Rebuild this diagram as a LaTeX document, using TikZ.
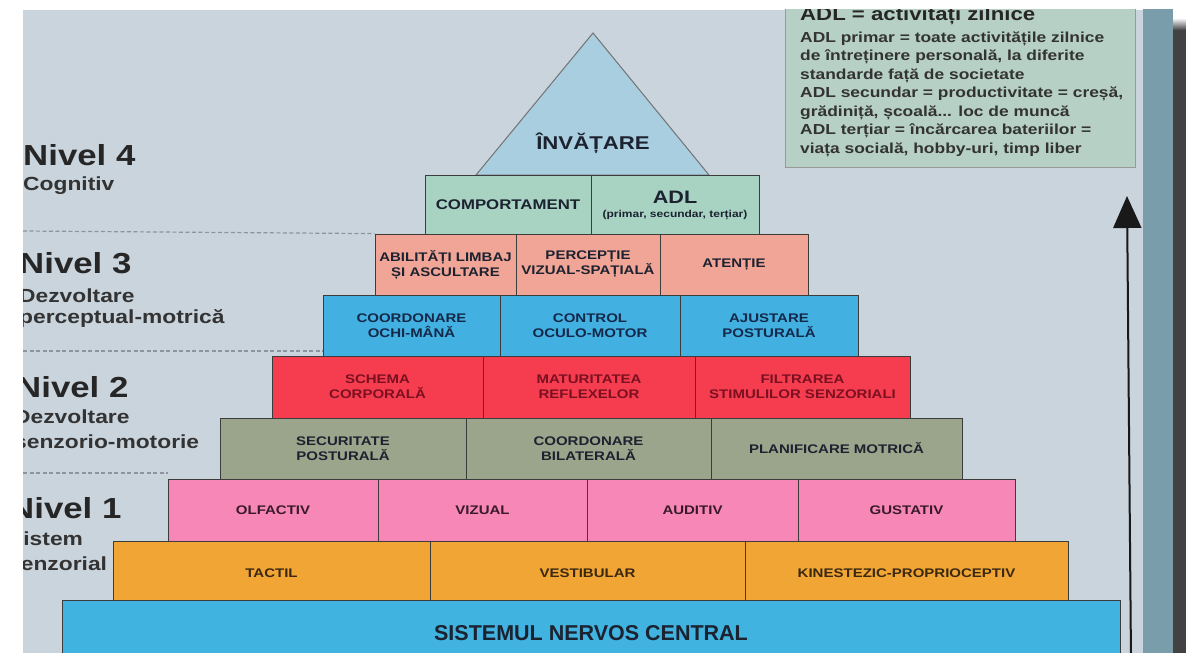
\documentclass[tikz,border=0pt]{standalone}
\usepackage{fontspec}
\setmainfont{Liberation Sans}[FakeStretch=1.2]
\newfontfamily\nsans{Liberation Sans}
\usetikzlibrary{arrows.meta}
\definecolor{bgc}{HTML}{CAD4DC}
\definecolor{tealc}{HTML}{7A9DAC}
\definecolor{trif}{HTML}{A9CEE0}
\definecolor{greenc}{HTML}{A8D3C2}
\definecolor{salmonc}{HTML}{F1A596}
\definecolor{bluec}{HTML}{42B0E0}
\definecolor{redc}{HTML}{F63D50}
\definecolor{olivec}{HTML}{9BA58B}
\definecolor{pinkc}{HTML}{F687B7}
\definecolor{orangec}{HTML}{F1A535}
\definecolor{cnsc}{HTML}{40B3E0}
\definecolor{adlc}{HTML}{B6D0C5}
\definecolor{txtc}{HTML}{1C2230}
\definecolor{redtxt}{HTML}{7A1020}
\definecolor{pinktxt}{HTML}{3A1A2A}
\definecolor{orangetxt}{HTML}{3A2810}
\definecolor{bluetxt}{HTML}{14284A}
\definecolor{dashc}{HTML}{8C959D}
\definecolor{edgec}{HTML}{3C3C3C}
\begin{document}
\begin{tikzpicture}[x=1pt,y=-1pt,
  cell/.style={draw=edgec,line width=0.8pt,inner sep=0pt,align=center,
    text=txtc,font=\bfseries\fontsize{12.5}{15}\selectfont},
  lvl/.style={anchor=base west,inner sep=0pt,text=black!85,font=\bfseries\fontsize{29}{30}\selectfont},
  sublvl/.style={anchor=base west,inner sep=0pt,text=black!80,font=\bfseries\fontsize{19}{20}\selectfont},
  dashline/.style={draw=dashc,line width=1.2pt,dash pattern=on 4pt off 2.5pt},
  adlline/.style={anchor=base west,inner sep=0pt,text=black!80,font=\bfseries\fontsize{14.5}{16}\selectfont}]
\useasboundingbox (0,0) rectangle (1186,653);
\fill[white] (0,0) rectangle (1186,653);
\fill[bgc] (23,10) rectangle (1143,653);
\fill[tealc] (1143,8) rectangle (1173,653);
\fill[black!74] (1173,28) rectangle (1186,653);
\shade[top color=white,bottom color=black!74] (1173,18) rectangle (1186,30);

% ADL box
\node[draw=black!40,fill=adlc,line width=0.8pt,minimum width=350pt,minimum height=180pt,inner sep=0pt] (adlbox) at (960,77) {};
\node[anchor=base west,inner sep=0pt,text=black!85,font=\bfseries\fontsize{18.5}{19}\selectfont] (adl0) at (800,20) {ADL = activitați zilnice};
\node[adlline] (adl1) at (800,42) {ADL primar = toate activitățile zilnice};
\node[adlline] (adl2) at (800,60.5) {de întreținere personală, la diferite};
\node[adlline] (adl3) at (800,79) {standarde față de societate};
\node[adlline] (adl4) at (800,97.5) {ADL secundar = productivitate = creșă,};
\node[adlline] (adl5) at (800,116) {grădiniță, școală... loc de muncă};
\node[adlline] (adl6) at (800,134.5) {ADL terțiar = încărcarea bateriilor =};
\node[adlline] (adl7) at (800,153) {viața socială, hobby-uri, timp liber};

% triangle
\filldraw[fill=trif,draw=black!55,line width=1pt] (593,33) -- (709,175) -- (476,175) -- cycle;
\node[inner sep=0pt,text=txtc,font=\bfseries\fontsize{18.5}{20}\selectfont] (invatare) at (593,143) {ÎNVĂȚARE};

% level 4 row
\node[cell,fill=greenc,minimum width=166pt,minimum height=59pt,font=\bfseries\fontsize{14}{16}\selectfont] (comp) at (508,204.5) {COMPORTAMENT};
\node[cell,fill=greenc,minimum width=168pt,minimum height=59pt] (adl) at (675,204.5) {};
\node[inner sep=0pt,text=txtc,font=\bfseries\fontsize{18}{19}\selectfont] (adlt) at (675,197) {ADL};
\node[inner sep=0pt,text=txtc,font=\bfseries\fontsize{10}{11}\selectfont] (adls) at (675,215) {(primar, secundar, terțiar)};

% level 3 rows
\node[cell,fill=salmonc,minimum width=141pt,minimum height=61pt] (abil) at (445.5,264.5) {ABILITĂȚI LIMBAJ\\ȘI ASCULTARE};
\node[cell,fill=salmonc,minimum width=144pt,minimum height=61pt] (perc) at (588,264.5) {PERCEPȚIE\\VIZUAL-SPAȚIALĂ};
\node[cell,fill=salmonc,minimum width=148pt,minimum height=61pt] (aten) at (734,264.5) {ATENȚIE};

\node[cell,fill=bluec,minimum width=177pt,minimum height=61pt,text=bluetxt] (coord) at (411.5,325.5) {COORDONARE\\OCHI-MÂNĂ};
\node[cell,fill=bluec,minimum width=180pt,minimum height=61pt,text=bluetxt] (ctrl) at (590,325.5) {CONTROL\\OCULO-MOTOR};
\node[cell,fill=bluec,minimum width=178pt,minimum height=61pt,text=bluetxt] (ajus) at (769,325.5) {AJUSTARE\\POSTURALĂ};

% level 2 rows
\node[cell,fill=redc,minimum width=211pt,minimum height=62pt,text=redtxt] (schema) at (377.5,387) {SCHEMA\\CORPORALĂ};
\node[cell,fill=redc,minimum width=212pt,minimum height=62pt,text=redtxt] (matur) at (589,387) {MATURITATEA\\REFLEXELOR};
\node[cell,fill=redc,minimum width=215pt,minimum height=62pt,text=redtxt] (filtr) at (802.5,387) {FILTRAREA\\STIMULILOR SENZORIALI};

\node[cell,fill=olivec,minimum width=246pt,minimum height=61pt] (secur) at (343,448.5) {SECURITATE\\POSTURALĂ};
\node[cell,fill=olivec,minimum width=245pt,minimum height=61pt] (bilat) at (588.5,448.5) {COORDONARE\\BILATERALĂ};
\node[cell,fill=olivec,minimum width=251pt,minimum height=61pt] (plan) at (836.5,448.5) {PLANIFICARE MOTRICĂ};

% level 1 rows
\node[cell,fill=pinkc,minimum width=210pt,minimum height=62pt,text=pinktxt] (olf) at (273,510) {OLFACTIV};
\node[cell,fill=pinkc,minimum width=209pt,minimum height=62pt,text=pinktxt] (viz) at (482.5,510) {VIZUAL};
\node[cell,fill=pinkc,minimum width=211pt,minimum height=62pt,text=pinktxt] (aud) at (692.5,510) {AUDITIV};
\node[cell,fill=pinkc,minimum width=217pt,minimum height=62pt,text=pinktxt] (gust) at (906.5,510) {GUSTATIV};

\node[cell,fill=orangec,minimum width=317pt,minimum height=64pt,text=orangetxt] (tact) at (271.5,573) {TACTIL};
\node[cell,fill=orangec,minimum width=315pt,minimum height=64pt,text=orangetxt] (vest) at (587.5,573) {VESTIBULAR};
\node[cell,fill=orangec,minimum width=323pt,minimum height=64pt,text=orangetxt] (kin) at (906.5,573) {KINESTEZIC-PROPRIOCEPTIV};

\node[cell,fill=cnsc,minimum width=1058pt,minimum height=66pt,font=\nsans\bfseries\fontsize{21.5}{23}\selectfont] (snc) at (591,633) {SISTEMUL NERVOS CENTRAL};

% level labels
\node[lvl] (n4) at (23,165) {Nivel 4};
\node[sublvl] (n4a) at (23,190) {Cognitiv};
\node[lvl] (n3) at (19,273) {Nivel 3};
\node[sublvl] (n3a) at (19,302) {Dezvoltare};
\node[sublvl] (n3b) at (19,323) {perceptual-motrică};
\node[lvl] (n2) at (16,397) {Nivel 2};
\node[sublvl] (n2a) at (14,423) {Dezvoltare};
\node[sublvl] (n2b) at (14,448) {senzorio-motorie};
\node[lvl] (n1) at (9,518) {Nivel 1};
\node[sublvl] (n1a) at (8,545) {Sistem};
\node[sublvl] (n1b) at (8,570) {senzorial};

% dashed separators
\coordinate (d4a) at (23,231); \coordinate (d4b) at (abil.north west);
\coordinate (d3a) at (23,351); \coordinate (d3b) at (323,351);
\coordinate (d2a) at (23,473); \coordinate (d2b) at (168,473);
\draw[dashline] (d4a) -- (d4b);
\draw[dashline] (d3a) -- (d3b);
\draw[dashline] (d2a) -- (d2b);

% arrow
\coordinate (arrbot) at (1131,660);
\coordinate (arrtop) at (1127,196);
\draw[line width=2pt,black!90,-{Triangle[length=32pt,width=28pt]}] (arrbot) -- (arrtop);

% white margins
\fill[white] (0,0) rectangle (23,653);
\fill[white] (0,0) rectangle (1173,9);
\end{tikzpicture}
\end{document}
